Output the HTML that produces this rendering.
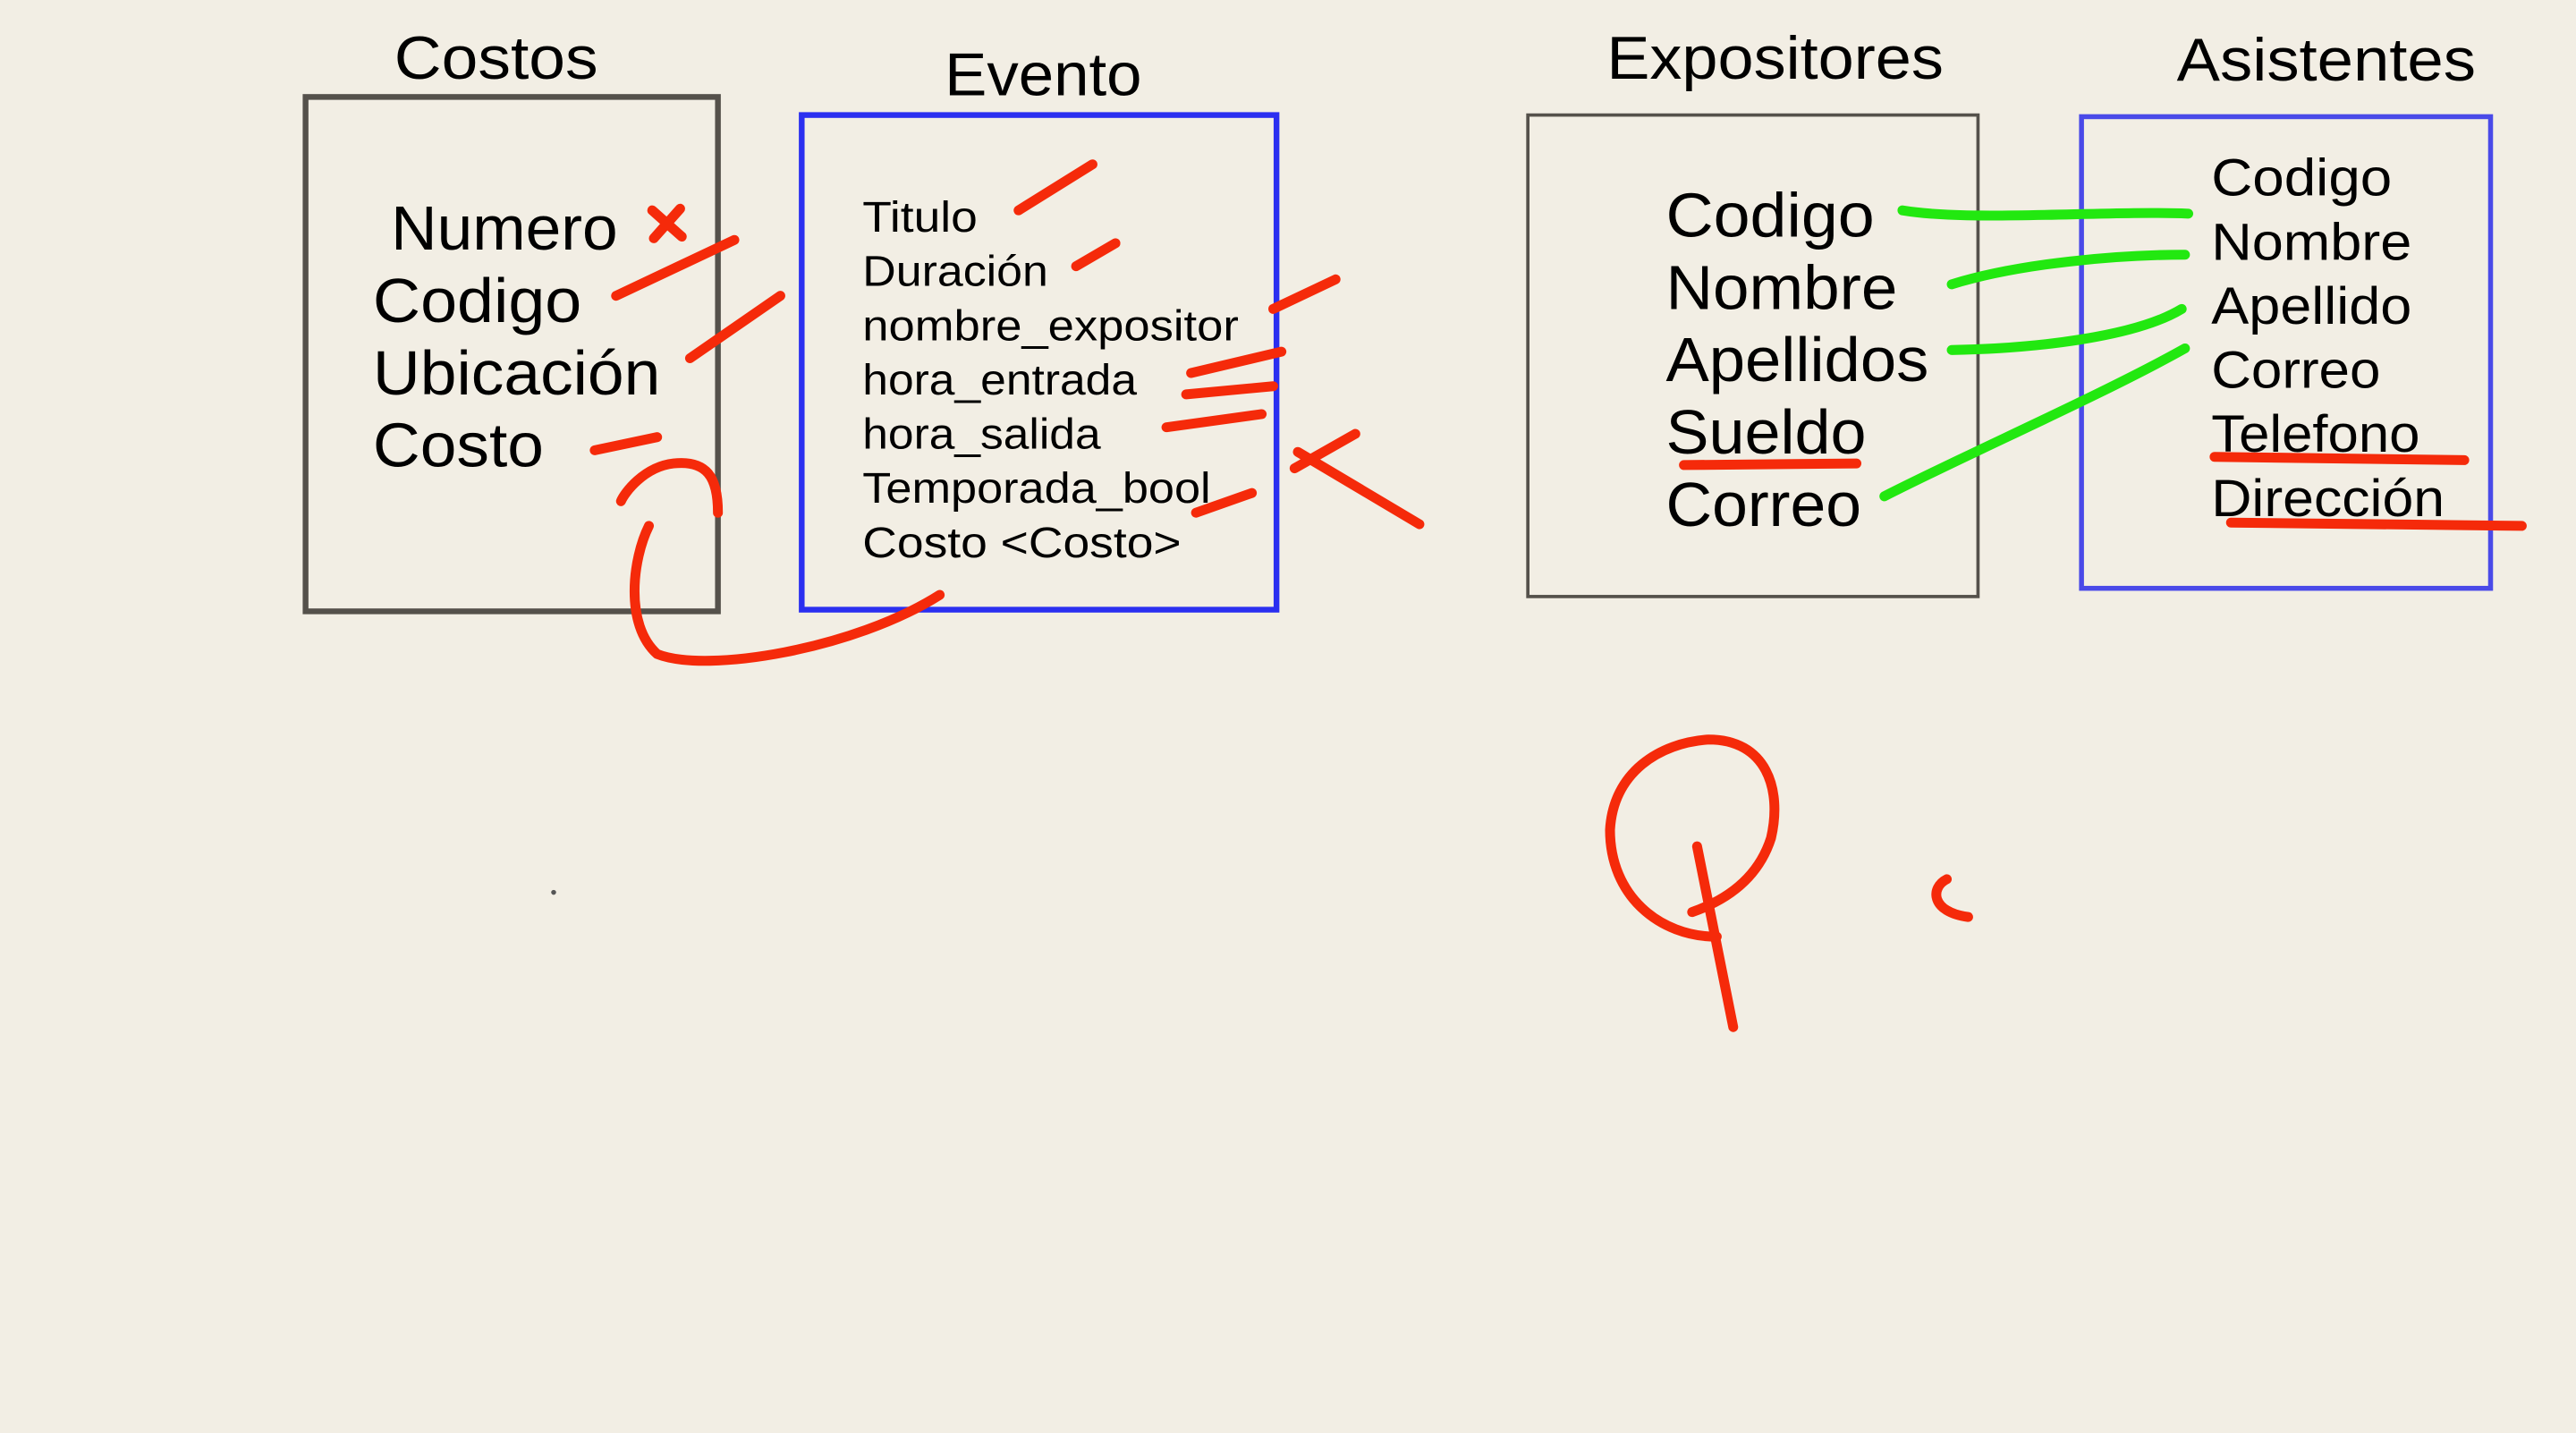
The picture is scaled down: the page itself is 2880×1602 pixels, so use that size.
<!DOCTYPE html>
<html><head><meta charset="utf-8"><style>
html,body{margin:0;padding:0;background:#f2eee4;}
svg{display:block;width:2880px;height:1602px;}
text{font-family:"Liberation Sans",sans-serif;fill:#000;}
.r{stroke:#f52a0a;stroke-width:6;fill:none;stroke-linecap:round;stroke-linejoin:round;}
.g{stroke:#22e810;stroke-width:6;fill:none;stroke-linecap:round;stroke-linejoin:round;}
</style></head><body>
<svg viewBox="0 0 1568 872" preserveAspectRatio="none" xmlns="http://www.w3.org/2000/svg">
<rect width="1568" height="872" fill="#f2eee4"/>
<rect x="186" y="59" width="251" height="313" fill="none" stroke="#55514b" stroke-width="3.5"/>
<rect x="488" y="70" width="289" height="301" fill="none" stroke="#2b2ff0" stroke-width="3.5"/>
<rect x="930" y="70" width="274" height="293" fill="none" stroke="#55514b" stroke-width="2"/>
<rect x="1267" y="71" width="249" height="287" fill="none" stroke="#4a4ae8" stroke-width="3"/>
<g lengthAdjust="spacingAndGlyphs">
<text x="240" y="48" font-size="37" textLength="124" lengthAdjust="spacingAndGlyphs">Costos</text>
<text x="575" y="58" font-size="37" textLength="120" lengthAdjust="spacingAndGlyphs">Evento</text>
<text x="978" y="48" font-size="37" textLength="205" lengthAdjust="spacingAndGlyphs">Expositores</text>
<text x="1325" y="49" font-size="37" textLength="182" lengthAdjust="spacingAndGlyphs">Asistentes</text>
</g>
<g font-size="38">
<text x="238" y="152" textLength="138" lengthAdjust="spacingAndGlyphs">Numero</text>
<text x="227" y="196" textLength="127" lengthAdjust="spacingAndGlyphs">Codigo</text>
<text x="227" y="240" textLength="175" lengthAdjust="spacingAndGlyphs">Ubicación</text>
<text x="227" y="284" textLength="104" lengthAdjust="spacingAndGlyphs">Costo</text>
</g>
<g font-size="26">
<text x="525" y="141" textLength="70" lengthAdjust="spacingAndGlyphs">Titulo</text>
<text x="525" y="174" textLength="113" lengthAdjust="spacingAndGlyphs">Duración</text>
<text x="525" y="207" textLength="229" lengthAdjust="spacingAndGlyphs">nombre_expositor</text>
<text x="525" y="240" textLength="167" lengthAdjust="spacingAndGlyphs">hora_entrada</text>
<text x="525" y="273" textLength="145" lengthAdjust="spacingAndGlyphs">hora_salida</text>
<text x="525" y="306" textLength="212" lengthAdjust="spacingAndGlyphs">Temporada_bool</text>
<text x="525" y="339" textLength="194" lengthAdjust="spacingAndGlyphs">Costo &lt;Costo&gt;</text>
</g>
<g font-size="38">
<text x="1014" y="144" textLength="127" lengthAdjust="spacingAndGlyphs">Codigo</text>
<text x="1014" y="188" textLength="141" lengthAdjust="spacingAndGlyphs">Nombre</text>
<text x="1014" y="232" textLength="160" lengthAdjust="spacingAndGlyphs">Apellidos</text>
<text x="1014" y="276" textLength="122" lengthAdjust="spacingAndGlyphs">Sueldo</text>
<text x="1014" y="320" textLength="119" lengthAdjust="spacingAndGlyphs">Correo</text>
</g>
<g font-size="32">
<text x="1346" y="119" textLength="110" lengthAdjust="spacingAndGlyphs">Codigo</text>
<text x="1346" y="158" textLength="122" lengthAdjust="spacingAndGlyphs">Nombre</text>
<text x="1346" y="197" textLength="122" lengthAdjust="spacingAndGlyphs">Apellido</text>
<text x="1346" y="236" textLength="103" lengthAdjust="spacingAndGlyphs">Correo</text>
<text x="1346" y="275" textLength="127" lengthAdjust="spacingAndGlyphs">Telefono</text>
<text x="1346" y="314" textLength="142" lengthAdjust="spacingAndGlyphs">Dirección</text>
</g>
<path class="r" d="M397 128 L415 144 M414 127 L398 145"/>
<path class="r" d="M375 180 L447 146"/>
<path class="r" d="M420 218 L475 180"/>
<path class="r" d="M362 274 L400 266"/>
<path class="r" d="M437 312 C437 290 430 280 410 282 C392 284 380 300 378 305"/>
<path class="r" d="M395 320 C385 340 380 380 400 398 C430 410 520 395 572 362"/>
<path class="r" d="M620 128 L665 100"/>
<path class="r" d="M655 162 L679 148"/>
<path class="r" d="M775 188 L813 170"/>
<path class="r" d="M725 227 L780 214"/>
<path class="r" d="M722 240 L775 235"/>
<path class="r" d="M710 260 L768 252"/>
<path class="r" d="M728 312 L762 300"/>
<path class="r" d="M790 275 L864 319 M825 264 L788 285"/>
<path class="r" d="M1025 283 L1130 282"/>
<path class="r" d="M1348 278 L1500 280"/>
<path class="r" d="M1358 318 L1535 320"/>
<path class="r" d="M1045 570 C1010 570 980 545 980 505 C982 470 1010 452 1040 450 C1075 450 1085 480 1078 510 C1070 535 1050 548 1030 555"/>
<path class="r" d="M1033 515 L1055 625"/>
<path class="r" d="M1185 535 C1175 540 1175 555 1198 558"/>
<circle cx="337" cy="543" r="1.5" fill="#555"/>
<path class="g" d="M1158 128 C1200 135 1280 128 1332 130"/>
<path class="g" d="M1188 173 C1230 160 1290 155 1330 155"/>
<path class="g" d="M1188 213 C1240 212 1300 205 1328 188"/>
<path class="g" d="M1147 302 C1200 275 1280 240 1330 212"/>
</svg>
</body></html>
